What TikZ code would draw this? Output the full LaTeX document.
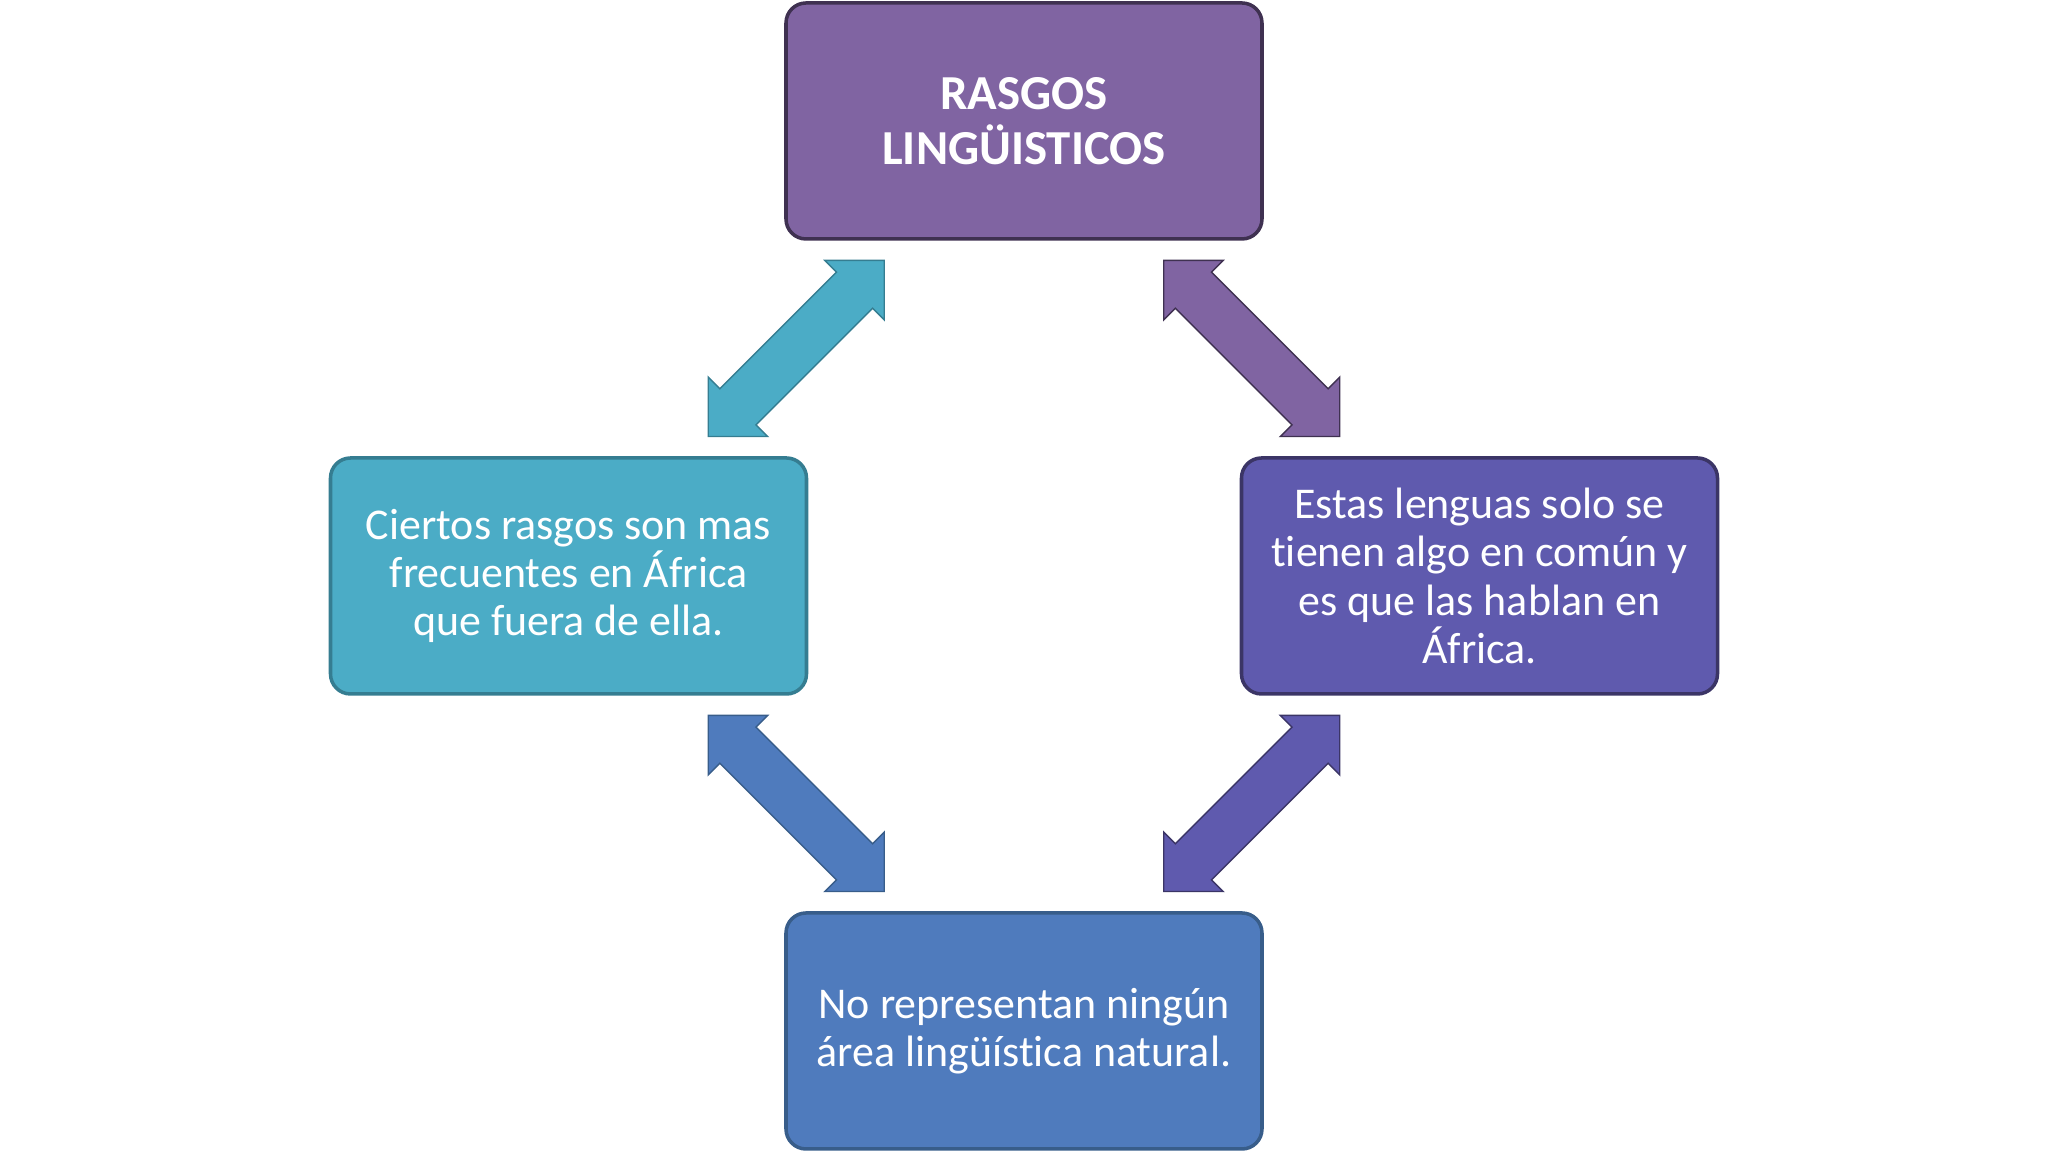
\documentclass[tikz,border=0pt]{standalone}
\usepackage{fontspec}
\setmainfont[Ligatures=NoCommon]{Carlito}
\usetikzlibrary{calc, positioning}

\definecolor{purpleFill}{HTML}{8064A2}
\definecolor{purpleEdge}{HTML}{3F3151}
\definecolor{tealFill}{HTML}{4BACC6}
\definecolor{tealEdge}{HTML}{357D91}
\definecolor{indigoFill}{HTML}{5F5AAE}
\definecolor{indigoEdge}{HTML}{3B3566}
\definecolor{blueFill}{HTML}{4F7BBD}
\definecolor{blueEdge}{HTML}{385D8A}

\tikzset{
  topicbox/.style={draw, line width=1pt, rounded corners=0.2cm,
    minimum width=4.76cm, minimum height=2.36cm, align=center,
    text=white, font=\fontsize{12.5}{13.7}\selectfont},
  linkarrow/.pic={
    \path[pic actions, line width=0.4pt]
      (-1.245,0) -- (-0.825,0.42) -- (-0.825,0.255) -- (0.825,0.255)
      -- (0.825,0.42) -- (1.245,0) -- (0.825,-0.42) -- (0.825,-0.255)
      -- (-0.825,-0.255) -- (-0.825,-0.42) -- cycle;
  },
}

\begin{document}
\begin{tikzpicture}
\def\dx{4.555}
\def\dy{4.55}
\useasboundingbox (0,0) rectangle (20.48,11.52);

\node[topicbox, fill=purpleFill, draw=purpleEdge,
  font=\bfseries\fontsize{13.9}{15.5}\selectfont]
  (rasgos) at (10.24,10.31) {RASGOS\\LINGÜISTICOS};
\node[topicbox, fill=tealFill, draw=tealEdge] (frecuentes) at ($(rasgos)+(-\dx,-\dy)$)
  {Ciertos rasgos son mas\\frecuentes en África\\que fuera de ella.};
\node[topicbox, fill=indigoFill, draw=indigoEdge] (africa) at ($(rasgos)+(\dx,-\dy)$)
  {Estas lenguas solo se\\tienen algo en común y\\es que las hablan en\\África.};
\node[topicbox, fill=blueFill, draw=blueEdge] (area) at ($(rasgos)+(0,-2*\dy)$)
  {No representan ningún\\área lingüística natural.};

% double arrows between the boxes
\pic[rotate=45, fill=tealFill, draw=tealEdge]
  (linkTL) at ($(rasgos)!0.5!(frecuentes)$) {linkarrow};
\pic[rotate=-45, fill=purpleFill, draw=purpleEdge]
  (linkTR) at ($(rasgos)!0.5!(africa)$) {linkarrow};
\pic[rotate=-45, fill=blueFill, draw=blueEdge]
  (linkBL) at ($(frecuentes)!0.5!(area)$) {linkarrow};
\pic[rotate=45, fill=indigoFill, draw=indigoEdge]
  (linkBR) at ($(africa)!0.5!(area)$) {linkarrow};
\end{tikzpicture}
\end{document}
